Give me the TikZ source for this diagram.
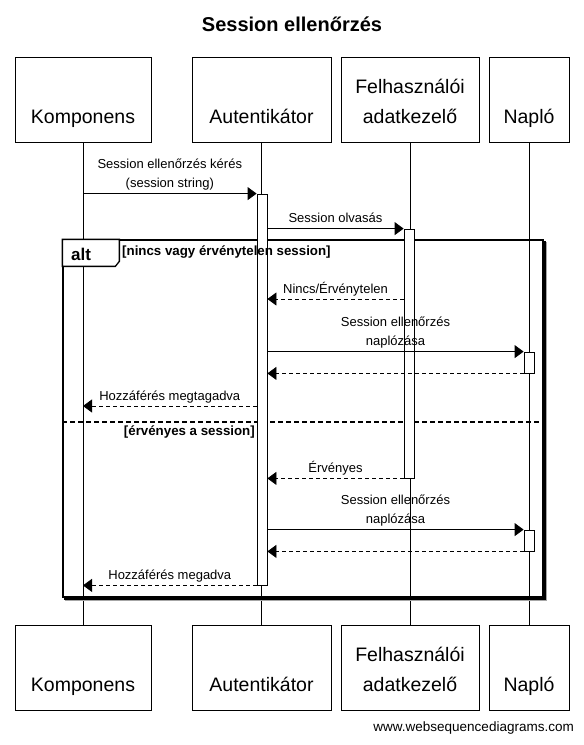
\documentclass[tikz,border=0pt]{standalone}
\usepackage{fontspec}
\setmainfont{Liberation Sans}
\usetikzlibrary{arrows.meta}
\usetikzlibrary{positioning}

\tikzset{
  actor/.style={draw, line width=0.9pt, minimum height=85pt, inner sep=0pt, align=center,
    text height=50pt, text depth=2pt, font=\fontsize{19.5}{30}\selectfont},
  lifeline/.style={line width=0.8pt},
  activation/.style={draw, fill=white, line width=0.8pt, minimum width=10pt, inner sep=0pt},
  msg/.style={line width=0.8pt, -{Triangle[length=9pt,width=13pt]}},
  reply/.style={msg, dash pattern=on 4pt off 3pt},
  msglabel/.style={font=\fontsize{13}{19}\selectfont, align=center, anchor=south,
    inner sep=0pt, text depth=2.5pt, yshift=3pt},
  guard/.style={font=\bfseries\fontsize{13.3}{16}\selectfont, inner sep=0pt},
  altframe/.style={draw, line width=1.3pt, inner sep=0pt},
}

\begin{document}
\begin{tikzpicture}[x=1pt, y=-1pt]
  \useasboundingbox (0,0) rectangle (584,745);

  \node[font=\bfseries\fontsize{20}{24}\selectfont] (title) at (292,24) {Session ellenőrzés};

  % participants, top and bottom
  \node[actor, minimum width=136pt] (komp)  at (83,99.5)  {Komponens};
  \node[actor, minimum width=139pt] (aut)   at (261.5,99.5) {Autentikátor};
  \node[actor, minimum width=138pt] (felh)  at (410,99.5) {Felhasználói\\adatkezelő};
  \node[actor, minimum width=80pt]  (naplo) at (529,99.5) {Napló};

  \node[actor, minimum width=136pt] (kompB)  at (83,667.5)  {Komponens};
  \node[actor, minimum width=139pt] (autB)   at (261.5,667.5) {Autentikátor};
  \node[actor, minimum width=138pt] (felhB)  at (410,667.5) {Felhasználói\\adatkezelő};
  \node[actor, minimum width=80pt]  (naploB) at (529,667.5) {Napló};

  \foreach \p in {komp,aut,felh,naplo} {
    \draw[lifeline] (\p.south) -- (\p B.north);
  }

  % alt frame
  \node[altframe, minimum width=480pt, minimum height=357pt] (alt) at (303,418.5) {};
  \draw[line width=1.3pt] ([shift={(1.3,2)}]alt.north east) -- ([shift={(1.3,1.3)}]alt.south east) -- ([shift={(2,1.3)}]alt.south west);
  \draw[black!35, line width=1pt] ([shift={(2.5,2.6)}]alt.south west) -- ([shift={(2.6,2.6)}]alt.south east) -- ([shift={(2.6,2.5)}]alt.north east);
  \draw[line width=1.3pt, fill=white] (alt.north west) -- ++(57,0) -- ++(0,22) -- ++(-4,5) -- ++(-53,0) -- cycle;
  \node[font=\bfseries\fontsize{17}{20}\selectfont, anchor=west, inner sep=0pt] (altlabel) at (71,254.5) {alt};
  \draw[line width=1.3pt, dash pattern=on 5pt off 3pt] (alt.west |- 0,422) -- (alt.east |- 0,422);

  % activations
  \node[activation, minimum height=391pt] (autAct)    at (262,389.5) {};
  \node[activation, minimum height=249pt] (felhAct)   at (409,353.5) {};
  \node[activation, minimum height=21pt]  (naploAct1) at (529,362.5) {};
  \node[activation, minimum height=21pt]  (naploAct2) at (529,540.5) {};

  \node[guard, anchor=west] (guard1) at (122,252) {[nincs vagy érvénytelen session]};
  \node[guard, anchor=east] (guard2) at (255,432) {[érvényes a session]};

  % messages
  \draw[msg] (komp.south |- autAct.north) -- node[msglabel] {Session ellenőrzés kérés\\(session string)} (autAct.north west);
  \draw[msg] (autAct.east |- felhAct.north) -- node[msglabel] {Session olvasás} (felhAct.north west);

  \draw[reply] (felhAct.west |- 0,299) -- node[msglabel] {Nincs/Érvénytelen} (autAct.east |- 0,299);
  \draw[msg] (autAct.east |- naploAct1.north) -- node[msglabel] {Session ellenőrzés\\naplózása} (naploAct1.north west);
  \draw[reply] (naploAct1.south west) -- (autAct.east |- naploAct1.south);
  \draw[reply] (autAct.west |- 0,406) -- node[msglabel] {Hozzáférés megtagadva} (komp.south |- 0,406);

  \draw[reply] (felhAct.south west) -- node[msglabel] {Érvényes} (autAct.east |- felhAct.south);
  \draw[msg] (autAct.east |- naploAct2.north) -- node[msglabel] {Session ellenőrzés\\naplózása} (naploAct2.north west);
  \draw[reply] (naploAct2.south west) -- (autAct.east |- naploAct2.south);
  \draw[reply] (autAct.south west) -- node[msglabel] {Hozzáférés megadva} (komp.south |- autAct.south);

  \node[font=\fontsize{13.5}{16}\selectfont, anchor=east, inner sep=0pt] (site) at (574,728) {www.websequencediagrams.com};
\end{tikzpicture}
\end{document}
